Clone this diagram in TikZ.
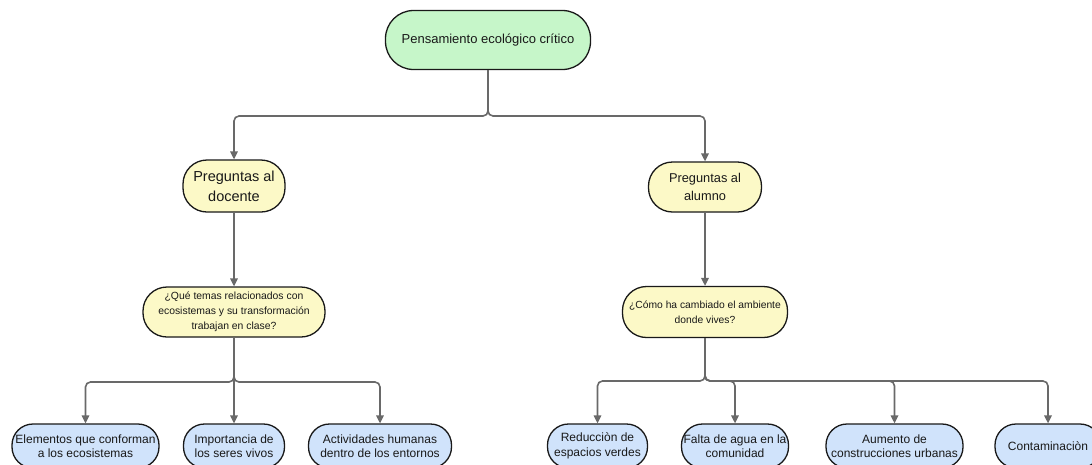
\documentclass[tikz,border=0pt]{standalone}
\usepackage{fontspec}
\setmainfont{Liberation Sans}
\usetikzlibrary{arrows.meta}
\definecolor{gfill}{RGB}{198,246,201}
\definecolor{yfill}{RGB}{252,249,199}
\definecolor{bfill}{RGB}{208,227,251}
\definecolor{conncol}{RGB}{105,105,105}
\definecolor{inkcol}{RGB}{25,25,25}
\tikzset{
  pill/.style n args={3}{draw=inkcol, line width=1.3pt, rectangle, rounded corners=#3,
    minimum width=#1, minimum height=#2, inner sep=0pt, align=center, text=inkcol},
  topbox/.style={pill={205pt}{59pt}{28pt}, fill=gfill, font=\fontsize{13}{16}\selectfont},
  qbox/.style 2 args={pill={#1}{#2}{24pt}, fill=yfill},
  leaf/.style={pill={#1}{44pt}{21pt}, fill=bfill, font=\fontsize{12}{14.5}\selectfont},
  conn/.style={draw=conncol, line width=1.6pt, rounded corners=5pt,
    -{Triangle[length=8pt,width=7.5pt]}, fill=none},
  railln/.style={draw=conncol, line width=1.6pt, rounded corners=5pt}
}
\begin{document}
\begin{tikzpicture}[x=1pt,y=-1pt]
\useasboundingbox (0,0) rectangle (1092,464);
\clip (0,0) rectangle (1092,464);
\fill[white] (0,0) rectangle (1092,464);

% nodes
\node[topbox] (top) at (488,40) {Pensamiento ecológico crítico};
\node[qbox={102pt}{52pt}, font=\fontsize{14.5}{20}\selectfont] (doc) at (234,186) {Preguntas al\\docente};
\node[qbox={113pt}{50pt}, font=\fontsize{12.8}{18.5}\selectfont] (alu) at (705,187) {Preguntas al\\alumno};
\node[qbox={182pt}{50pt}, font=\fontsize{10.4}{14.8}\selectfont] (qt) at (234,312) {¿Qué temas relacionados con\\ecosistemas y su transformación\\trabajan en clase?};
\node[qbox={165pt}{51pt}, font=\fontsize{10.3}{15}\selectfont] (qc) at (705,312) {¿Cómo ha cambiado el ambiente\\donde vives?};

\node[leaf={147pt}] (e1) at (85.5,446) {Elementos que conforman\\a los ecosistemas};
\node[leaf={101pt}] (e2) at (234,446) {Importancia de\\los seres vivos};
\node[leaf={143pt}] (e3) at (380,446) {Actividades humanas\\dentro de los entornos};

\node[leaf={100pt}] (r1) at (597.5,446) {Reducciòn de\\espacios verdes};
\node[leaf={107pt}] (r2) at (735,446) {Falta de agua en la\\comunidad};
\node[leaf={137pt}] (r3) at (894.5,446) {Aumento de\\construcciones urbanas};
\node[leaf={106pt}] (r4) at (1048,446) {Contaminaciòn};

% rail points
\coordinate (ra) at (488,116);
\coordinate (rb) at (234,382);
\coordinate (rc) at (705,381);

% connectors
\draw[conn] (top.south) -- (ra) -| (doc.north);
\draw[conn] (top.south) -- (ra) -| (alu.north);
\draw[conn] (doc.south) -- (qt.north);
\draw[conn] (alu.south) -- (qc.north);

\draw[conn] (qt.south) -- (rb) -| (e1.north);
\draw[conn] (qt.south) -- (e2.north);
\draw[conn] (qt.south) -- (rb) -| (e3.north);

\draw[conn] (qc.south) -- (rc) -| (r1.north);
\draw[conn] (qc.south) -- (rc) -| (r2.north);
\draw[conn] (qc.south) -- (rc) -| (r3.north);
\draw[conn] (qc.south) -- (rc) -| (r4.north);
\end{tikzpicture}
\end{document}
